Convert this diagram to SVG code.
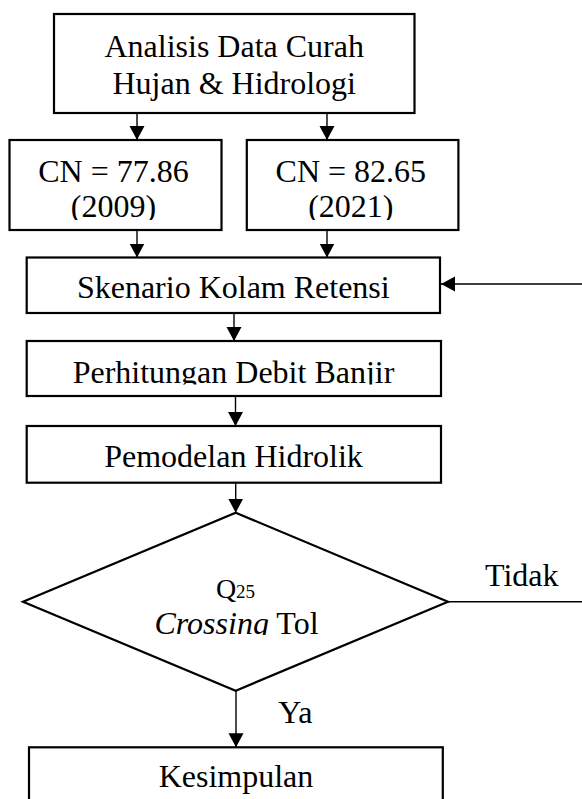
<svg xmlns="http://www.w3.org/2000/svg" width="582" height="799" viewBox="0 0 582 799">
<style>
.box{fill:#fff;stroke:#000;stroke-width:2.2}
.t{font-family:"Liberation Serif","Times New Roman",serif;font-size:32px;fill:#000;text-anchor:middle}
.lbl{font-family:"Liberation Serif","Times New Roman",serif;font-size:32px;fill:#000}
.c{fill:none;stroke:#000;stroke-width:1.4}
</style>
<defs>
<marker id="arr" markerUnits="userSpaceOnUse" markerWidth="15" markerHeight="16" refX="14" refY="7.5" orient="auto">
<path d="M0,0 L14,7.5 L0,15 Z" fill="#000"/>
</marker>
<clipPath id="clipCN1" clipPathUnits="userSpaceOnUse"><rect x="10" y="140" width="211" height="80"/></clipPath>
<clipPath id="clipCN2" clipPathUnits="userSpaceOnUse"><rect x="247" y="140" width="211" height="80"/></clipPath>
<clipPath id="clipPerh" clipPathUnits="userSpaceOnUse"><rect x="27" y="341" width="414" height="43.5"/></clipPath>
<clipPath id="clipDia" clipPathUnits="userSpaceOnUse"><rect x="60" y="560" width="350" height="75"/></clipPath>
</defs>

<g id="n-analisis">
<rect class="box" x="54" y="14" width="360.5" height="99"/>
<text class="t" x="234.2" y="57">Analisis Data Curah</text>
<text class="t" x="234.2" y="94">Hujan &amp; Hidrologi</text>
</g>

<g id="n-cn2009">
<rect class="box" x="9.5" y="140" width="212" height="90"/>
<g clip-path="url(#clipCN1)">
<text class="t" x="113.5" y="182">CN = 77.86</text>
<text class="t" x="113.5" y="217">(2009)</text>
</g>
</g>

<g id="n-cn2021">
<rect class="box" x="246.8" y="140" width="211.6" height="90"/>
<g clip-path="url(#clipCN2)">
<text class="t" x="350.8" y="182">CN = 82.65</text>
<text class="t" x="350.8" y="217">(2021)</text>
</g>
</g>

<g id="n-skenario">
<rect class="box" x="26.7" y="257.5" width="413.3" height="55.5"/>
<text class="t" x="233.3" y="298">Skenario Kolam Retensi</text>
</g>

<g id="n-perhitungan">
<rect class="box" x="26.7" y="341" width="414.3" height="55"/>
<g clip-path="url(#clipPerh)">
<text class="t" x="233.5" y="383">Perhitungan Debit Banjir</text>
</g>
</g>

<g id="n-pemodelan">
<rect class="box" x="26.7" y="426" width="414.3" height="56.7"/>
<text class="t" x="233.5" y="466.7">Pemodelan Hidrolik</text>
</g>

<g id="n-decision">
<polygon class="box" points="235.7,512.7 448,601.7 235.7,690.7 23,601.7"/>
<g clip-path="url(#clipDia)">
<text class="t" x="235.5" y="598.3"><tspan font-size="28">Q</tspan><tspan font-size="19">25</tspan></text>
<text class="t" x="236.5" y="633.5"><tspan font-style="italic">Crossing</tspan> Tol</text>
</g>
</g>

<g id="n-kesimpulan">
<rect class="box" x="29" y="747.3" width="413.8" height="80"/>
<text class="t" x="236" y="786.7">Kesimpulan</text>
</g>

<g id="connectors">
<line class="c" x1="137" y1="113" x2="137" y2="140" marker-end="url(#arr)"/>
<line class="c" x1="327" y1="113" x2="327" y2="140" marker-end="url(#arr)"/>
<line class="c" x1="137" y1="230" x2="137" y2="257.5" marker-end="url(#arr)"/>
<line class="c" x1="327" y1="230" x2="327" y2="257.5" marker-end="url(#arr)"/>
<line class="c" x1="234" y1="313" x2="234" y2="341" marker-end="url(#arr)"/>
<line class="c" x1="235.5" y1="396" x2="235.5" y2="426" marker-end="url(#arr)"/>
<line class="c" x1="235.7" y1="482.7" x2="235.7" y2="512.7" marker-end="url(#arr)"/>
<line class="c" x1="236" y1="690.7" x2="236" y2="747.3" marker-end="url(#arr)"/>
<path class="c" d="M448,601.7 H600 V284 H441" marker-end="url(#arr)"/>
<text class="lbl" x="485" y="585.7">Tidak</text>
<text class="lbl" x="278.3" y="723.3">Ya</text>
</g>
</svg>
